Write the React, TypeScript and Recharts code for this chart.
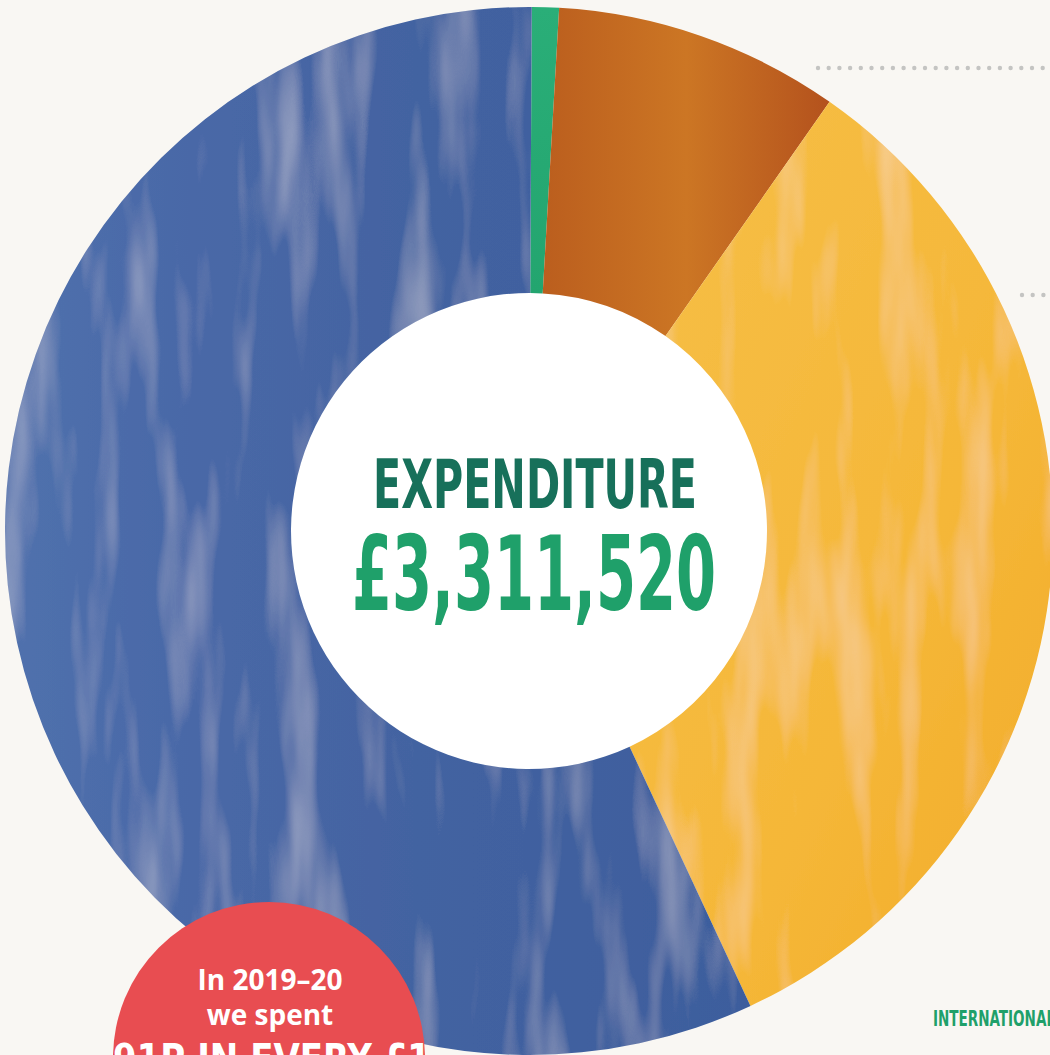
import { PieChart, Pie, Cell } from 'recharts';

// expenditure split, read clockwise from 12 o'clock
const categories = ['Governance', 'Raising funds', 'International', 'UK programmes'];
const amounts = [27600, 291600, 1103800, 1888520];
const sliceColors = ['url(#gGreen)', 'url(#gBrown)', 'url(#gYellow)', 'url(#gBlue)'];

const centreTitle = 'EXPENDITURE';
const centreTotal = '£3,311,520';
const calloutLines = ['In 2019–20', 'we spent'];
const calloutCut = '91P IN EVERY £1';
const sideLabel = 'INTERNATIONAL';

const data = categories.map((name, i) => ({ name, value: amounts[i] }));
const hole = [{ name: 'hole', value: 1 }];

const CX = 529;
const CY = 531;
const NARROW = "'Liberation Sans Narrow', 'DejaVu Sans Condensed', 'Roboto', sans-serif";

function Dots({ x1, x2, y }: { x1: number; x2: number; y: number }) {
  const dots = [];
  for (let x = x1; x <= x2; x += 10.7) {
    dots.push(<circle key={x} cx={x} cy={y} r={2.2} fill="#c4c4c2" />);
  }
  return <g>{dots}</g>;
}

export default function App() {
  return (
    <div
      style={{
        position: 'fixed',
        left: 0,
        top: 0,
        width: 1050,
        height: 1055,
        background: '#f9f7f3',
        overflow: 'hidden',
      }}
    >
      <PieChart width={1050} height={1055} margin={{ top: 0, right: 0, bottom: 0, left: 0 }}>
        <defs>
          <linearGradient id="gBlue" x1="0" y1="0" x2="1" y2="0">
            <stop offset="0%" stopColor="#5071ad" />
            <stop offset="25%" stopColor="#4968a7" />
            <stop offset="55%" stopColor="#4363a1" />
            <stop offset="100%" stopColor="#3d5d9d" />
          </linearGradient>
          <linearGradient id="gYellow" x1="0" y1="0" x2="1" y2="1">
            <stop offset="0%" stopColor="#f6bf48" />
            <stop offset="60%" stopColor="#f5b738" />
            <stop offset="100%" stopColor="#f2ab27" />
          </linearGradient>
          <linearGradient id="gBrown" x1="0" y1="0" x2="1" y2="0">
            <stop offset="0%" stopColor="#bb5e1e" />
            <stop offset="50%" stopColor="#cc7624" />
            <stop offset="100%" stopColor="#b4521d" />
          </linearGradient>
          <linearGradient id="gGreen" x1="0" y1="0" x2="0" y2="1">
            <stop offset="0%" stopColor="#2aae78" />
            <stop offset="100%" stopColor="#23a56f" />
          </linearGradient>
          {/* faint brush streaks */}
          <filter id="tex" x="0" y="0" width="1" height="1">
            <feTurbulence type="fractalNoise" baseFrequency="0.025 0.004" numOctaves={3} seed={7} result="noise" />
            <feColorMatrix
              in="noise"
              type="matrix"
              values="0 0 0 0 1  0 0 0 0 1  0 0 0 0 1  0.6 0 0 0 -0.3"
              result="light"
            />
            <feComposite in="light" in2="SourceGraphic" operator="in" result="streaks" />
            <feMerge>
              <feMergeNode in="SourceGraphic" />
              <feMergeNode in="streaks" />
            </feMerge>
          </filter>
        </defs>
        <Pie
          data={hole}
          dataKey="value"
          cx={CX}
          cy={CY}
          innerRadius={0}
          outerRadius={240}
          stroke="none"
          fill="#ffffff"
          isAnimationActive={false}
        />
        <Pie
          data={data}
          dataKey="value"
          nameKey="name"
          cx={CX}
          cy={CY}
          innerRadius={238}
          outerRadius={524}
          startAngle={89.7}
          endAngle={-270.3}
          paddingAngle={0}
          stroke="none"
          isAnimationActive={false}
        >
          {data.map((d, i) => (
            <Cell key={d.name} fill={sliceColors[i]} filter={i >= 2 ? 'url(#tex)' : undefined} />
          ))}
        </Pie>
      </PieChart>

      <svg
        width={1050}
        height={1055}
        style={{ position: 'absolute', left: 0, top: 0, pointerEvents: 'none' }}
      >
        <Dots x1={818} x2={1050} y={68} />
        <Dots x1={1022} x2={1050} y={295} />

        <text
          x={CX + 6}
          y={508}
          textAnchor="middle"
          fill="#17705a"
          fontFamily={NARROW}
          fontWeight={700}
          fontSize={68}
          textLength={324}
          lengthAdjust="spacingAndGlyphs"
        >
          {centreTitle}
        </text>
        <text
          x={CX + 5}
          y={610}
          textAnchor="middle"
          fill="#1fa06a"
          fontFamily={NARROW}
          fontWeight={700}
          fontSize={104}
          textLength={364}
          lengthAdjust="spacingAndGlyphs"
        >
          {centreTotal}
        </text>

        <circle cx={269} cy={1058} r={156} fill="#e84d51" />
        {calloutLines.map((line, i) => (
          <text
            key={line}
            x={270}
            y={990 + i * 35}
            textAnchor="middle"
            fill="#ffffff"
            fontFamily="'Open Sans', 'Noto Sans', sans-serif"
            fontWeight={700}
            fontSize={28}
          >
            {line}
          </text>
        ))}
        <text
          x={272}
          y={1073}
          textAnchor="middle"
          fill="#ffffff"
          fontFamily={NARROW}
          fontWeight={700}
          fontSize={40}
          textLength={318}
          lengthAdjust="spacingAndGlyphs"
        >
          {calloutCut}
        </text>

        <text
          x={933}
          y={1026}
          fill="#1fa06a"
          fontFamily={NARROW}
          fontWeight={700}
          fontSize={22}
          textLength={122}
          lengthAdjust="spacingAndGlyphs"
        >
          {sideLabel}
        </text>
      </svg>
    </div>
  );
}
